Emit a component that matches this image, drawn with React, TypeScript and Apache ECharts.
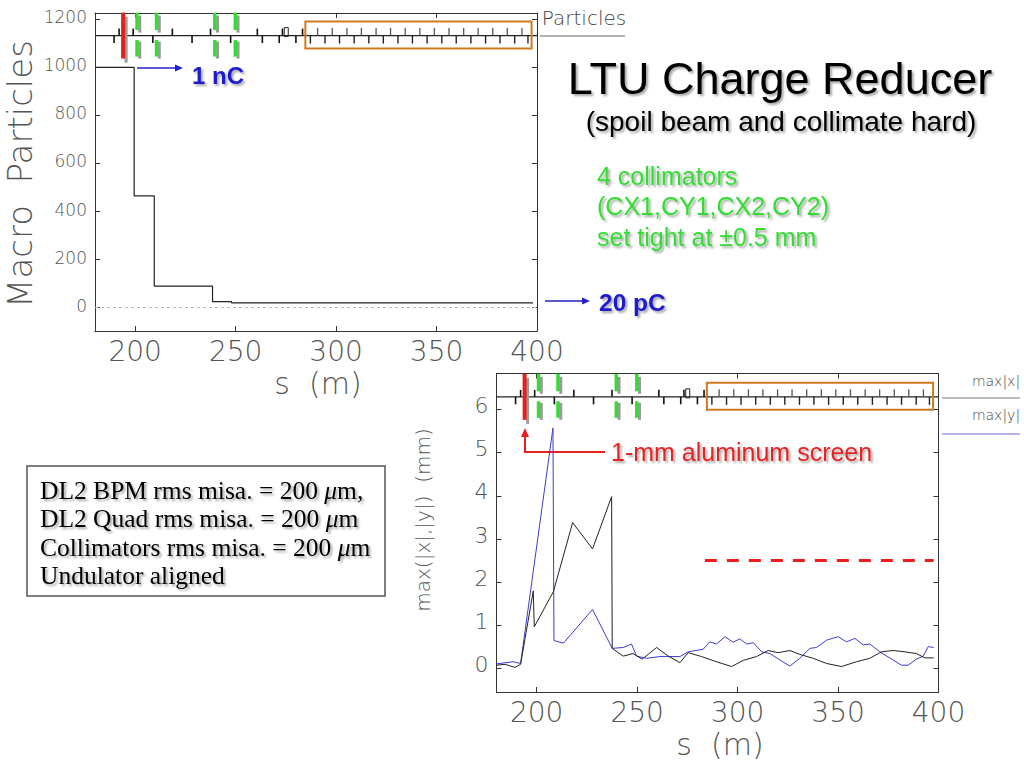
import React, { useEffect, useRef } from "react";
import * as echarts from "echarts";

// ---------- axis ticks ----------
const sTicks = [200, 250, 300, 350, 400];
const particleTicks = [0, 200, 400, 600, 800, 1000, 1200];
const orbitTicks = [0, 1, 2, 3, 4, 5, 6];

// ---------- top chart: macro particles vs s ----------
const particleS = [180, 199.5, 209.5, 238.5, 248, 398];
const particleN = [1000, 465, 90, 25, 20, 20];

// ---------- bottom chart: max|x| and max|y| vs s ----------
const maxXS = [179.8, 184.2, 189.2, 192, 198.3, 198.8, 208.3, 217.9, 227.8, 237.3, 237.6, 243.1, 248, 252.5, 259.7, 265.5, 271.3, 275.4, 282.1, 289.5, 297, 302.8, 309.4, 315.2, 320.2, 326, 331, 337.6, 344.3, 351.7, 359.2, 365.8, 371.6, 377.4, 383.2, 389, 393.2, 397.6];
const maxXV = [0.08, 0.1, 0.03, 0.1, 1.8, 0.97, 1.78, 3.38, 2.77, 3.98, 0.47, 0.29, 0.35, 0.22, 0.49, 0.29, 0.14, 0.37, 0.28, 0.16, 0.05, 0.19, 0.28, 0.42, 0.37, 0.42, 0.33, 0.24, 0.12, 0.05, 0.16, 0.24, 0.39, 0.42, 0.39, 0.35, 0.25, 0.25];
const maxYS = [179.8, 188.4, 192, 208.1, 208.6, 213.3, 227.8, 237.6, 243.1, 247.2, 249.7, 254.7, 261.3, 271.3, 275.4, 282.9, 286.1, 289.5, 293.7, 297.8, 301.1, 304.5, 307.8, 312, 316.1, 321.1, 326, 331, 336, 339.3, 344.3, 350.1, 354.2, 358.4, 362.5, 365.8, 370.8, 377.4, 381.6, 384.9, 389, 392.4, 394.9, 397.6];
const maxYV = [0.11, 0.16, 0.12, 5.57, 0.65, 0.59, 1.37, 0.47, 0.49, 0.57, 0.29, 0.24, 0.28, 0.28, 0.39, 0.45, 0.62, 0.57, 0.74, 0.61, 0.69, 0.57, 0.6, 0.39, 0.35, 0.2, 0.06, 0.24, 0.47, 0.49, 0.66, 0.74, 0.62, 0.7, 0.55, 0.57, 0.39, 0.2, 0.08, 0.08, 0.22, 0.29, 0.51, 0.49];
const limitS = [283.7, 397.6];
const limitV = 2.5;

// ---------- beamline layout (s positions, m) ----------
const bendS = [194];
const collS = [200.8, 210.5, 239.5, 249.7];
const quadUpS = [192, 199, 218.5, 237.5, 260.8, 273.3, 283.3];
const quadDownS = [189.5, 208.8, 228.3, 247.5, 263.3, 271.7, 280];
const smallBoxS = [275.2];
const undUpS = [290.8, 298.1, 305.4, 312.6, 319.9, 327.1, 334.4, 341.7, 348.9, 356.2, 363.5, 370.7, 378.0, 385.2, 392.5];
const undDownS = [287.2, 294.5, 301.7, 309.0, 316.3, 323.5, 330.8, 338.0, 345.3, 352.6, 359.8, 367.1, 374.4, 381.6, 388.9, 395.5];
const undulatorRange = [284.7, 397.3];
const beamlineRange = [180, 400];

const THIN = "'DejaVu Sans', sans-serif";
const ARIAL = "'Liberation Sans', Arial, sans-serif";
const SERIF = "'Liberation Serif', 'Times New Roman', serif";

const K = { axis: 0, bend: 1, coll: 2, qUp: 3, qDown: 4, box: 5, uUp: 6, uDown: 7, uBox: 8 };

function beamlineSeries(axisIdx: number, base: number) {
  const data: number[][] = [];
  data.push([beamlineRange[0], base, K.axis, beamlineRange[1]]);
  data.push([undulatorRange[0], base, K.uBox, undulatorRange[1]]);
  bendS.forEach((s) => data.push([s, base, K.bend, s]));
  collS.forEach((s) => data.push([s, base, K.coll, s]));
  quadUpS.forEach((s) => data.push([s, base, K.qUp, s]));
  quadDownS.forEach((s) => data.push([s, base, K.qDown, s]));
  smallBoxS.forEach((s) => data.push([s, base, K.box, s]));
  undUpS.forEach((s) => data.push([s, base, K.uUp, s]));
  undDownS.forEach((s) => data.push([s, base, K.uDown, s]));
  return {
    type: "custom",
    xAxisIndex: axisIdx,
    yAxisIndex: axisIdx,
    silent: true,
    clip: false,
    z: 5,
    encode: { x: 0, y: 1 },
    data,
    renderItem: (params: any, api: any) => {
      const s = api.value(0);
      const b = api.value(1);
      const k = api.value(2);
      const s2 = api.value(3);
      const p = api.coord([s, b]);
      const x = p[0];
      const y = p[1];
      const line = (x1: number, y1: number, x2: number, y2: number, color: string, w: number) => ({
        type: "line",
        shape: { x1, y1, x2, y2 },
        style: { stroke: color, lineWidth: w },
      });
      const rect = (rx: number, ry: number, rw: number, rh: number, fill: string) => ({
        type: "rect",
        shape: { x: rx, y: ry, width: rw, height: rh },
        style: { fill },
      });
      if (k === K.axis) {
        const p2 = api.coord([s2, b]);
        return line(x, y, p2[0], y, "#222", 1.2);
      }
      if (k === K.uBox) {
        const p2 = api.coord([s2, b]);
        return {
          type: "rect",
          shape: { x, y: y - 14, width: p2[0] - x, height: 27 },
          style: { fill: "none", stroke: "#d07a1e", lineWidth: 2 },
        };
      }
      if (k === K.bend) {
        return {
          type: "group",
          children: [
            rect(x + 1.5, y - 19, 3, 46, "#9a9a9a"),
            rect(x - 2, y - 23, 4, 46, "#e4201c"),
          ],
        };
      }
      if (k === K.coll) {
        return {
          type: "group",
          children: [
            rect(x + 1.5, y - 20, 3, 17, "#9a9a9a"),
            rect(x + 1.5, y + 6, 3, 17, "#9a9a9a"),
            rect(x - 1.5, y - 23, 3.5, 17.5, "#33dd33"),
            rect(x - 1.5, y + 4.5, 3.5, 16.5, "#33dd33"),
          ],
        };
      }
      if (k === K.qUp) return line(x, y - 7, x, y, "#111", 1.6);
      if (k === K.qDown) return line(x, y, x, y + 7.5, "#111", 1.6);
      if (k === K.uUp) return line(x, y - 7.5, x, y, "#555", 1.3);
      if (k === K.uDown) return line(x, y, x, y + 8, "#222", 1.4);
      if (k === K.box) {
        return {
          type: "rect",
          shape: { x: x - 2, y: y - 8, width: 4, height: 9 },
          style: { fill: "none", stroke: "#222", lineWidth: 1 },
        };
      }
      return null;
    },
  };
}

function xAxisPair(gridIndex: number) {
  const common = {
    type: "value",
    gridIndex,
    min: 180,
    max: 400,
    splitLine: { show: false },
    axisLine: { show: true, onZero: false, lineStyle: { color: "#333", width: 1 } },
    axisTick: { show: true, inside: true, length: 5, customValues: sTicks, lineStyle: { color: "#333" } },
  };
  return [
    {
      ...common,
      position: "bottom",
      axisLabel: {
        show: true,
        customValues: sTicks,
        formatter: (v: number) => String(v),
        fontSize: 28,
        color: "#555",
        fontFamily: THIN,
        fontWeight: 200,
        margin: 6,
      },
    },
    { ...common, position: "top", axisLabel: { show: false } },
  ];
}

function yAxisPair(gridIndex: number, min: number, max: number, ticks: number[], fontSize: number, lh: number) {
  const common = {
    type: "value",
    gridIndex,
    min,
    max,
    splitLine: { show: false },
    axisLine: { show: true, onZero: false, lineStyle: { color: "#333", width: 1 } },
    axisTick: { show: true, inside: true, length: 5, customValues: ticks, lineStyle: { color: "#333" } },
  };
  return [
    {
      ...common,
      position: "left",
      axisLabel: {
        show: true,
        customValues: ticks,
        formatter: (v: number) => String(v),
        fontSize,
        color: "#555",
        fontFamily: THIN,
        fontWeight: 200,
        margin: 8,
        verticalAlign: "bottom",
        lineHeight: lh,
      },
    },
    { ...common, position: "right", axisLabel: { show: false } },
  ];
}

const shadow = { textShadowColor: "rgba(0,0,0,0.35)", textShadowOffsetX: 2, textShadowOffsetY: 2, textShadowBlur: 2 };

function arrowHead(x: number, y: number, dir: "right" | "up", color: string) {
  const pts = dir === "right" ? [[x - 8, y - 3.5], [x, y], [x - 8, y + 3.5]] : [[x - 4, y + 9], [x, y], [x + 4, y + 9]];
  return { type: "polygon", shape: { points: pts }, style: { fill: color } };
}

export default function App() {
  const ref = useRef<HTMLDivElement>(null);

  useEffect(() => {
    if (!ref.current) return;
    const chart = echarts.init(ref.current, undefined, { renderer: "svg" });

    const [xb0, xt0] = xAxisPair(0);
    const [xb1, xt1] = xAxisPair(1);
    const [yl0, yr0] = yAxisPair(0, -97, 1226, particleTicks, 17, 4);
    const [yl1, yr1] = yAxisPair(1, -0.54, 6.83, orbitTicks, 22, 8);

    const option: any = {
      animation: false,
      backgroundColor: "#ffffff",
      grid: [
        { left: 95, top: 13, width: 442, height: 318 },
        { left: 496.5, top: 373.5, width: 442, height: 318.5 },
      ],
      xAxis: [xb0, xb1, xt0, xt1],
      yAxis: [yl0, yl1, yr0, yr1],
      series: [
        {
          name: "Particles",
          type: "line",
          xAxisIndex: 0,
          yAxisIndex: 0,
          step: "end",
          symbol: "none",
          data: particleS.map((s, i) => [s, particleN[i]]),
          lineStyle: { color: "#222", width: 1.2 },
          markLine: {
            silent: true,
            symbol: "none",
            label: { show: false },
            lineStyle: { color: "#bbb", type: [3, 3], width: 1 },
            data: [{ yAxis: 0 }],
          },
        },
        beamlineSeries(0, 1132),
        {
          name: "max|x|",
          type: "line",
          xAxisIndex: 1,
          yAxisIndex: 1,
          symbol: "none",
          data: maxXS.map((s, i) => [s, maxXV[i]]),
          lineStyle: { color: "#222", width: 1 },
          z: 3,
        },
        {
          name: "max|y|",
          type: "line",
          xAxisIndex: 1,
          yAxisIndex: 1,
          symbol: "none",
          data: maxYS.map((s, i) => [s, maxYV[i]]),
          lineStyle: { color: "#3b3bd6", width: 1 },
          z: 2,
          markLine: {
            silent: true,
            symbol: "none",
            label: { show: false },
            lineStyle: { color: "#ee1c1c", type: [12, 10], width: 3 },
            data: [[{ coord: [limitS[0], limitV] }, { coord: [limitS[1], limitV] }]],
          },
        },
        beamlineSeries(1, 6.29),
      ],
      graphic: [
        // axis titles
        {
          type: "text",
          x: 20,
          y: 174,
          rotation: Math.PI / 2,
          style: { text: "Macro  Particles", fontSize: 34, fontFamily: THIN, fontWeight: 200, fill: "#555", align: "center", verticalAlign: "middle" },
        },
        {
          type: "text",
          x: 318,
          y: 383,
          style: { text: "s  (m)", fontSize: 30, fontFamily: THIN, fontWeight: 200, fill: "#555", align: "center", verticalAlign: "middle" },
        },
        {
          type: "text",
          x: 423,
          y: 520,
          rotation: Math.PI / 2,
          style: { text: "max(|x|,|y|)  (mm)", fontSize: 20, fontFamily: THIN, fontWeight: 200, fill: "#555", align: "center", verticalAlign: "middle" },
        },
        {
          type: "text",
          x: 720,
          y: 744,
          style: { text: "s  (m)", fontSize: 30, fontFamily: THIN, fontWeight: 200, fill: "#555", align: "center", verticalAlign: "middle" },
        },
        // legends
        {
          type: "text",
          x: 584,
          y: 18,
          style: { text: "Particles", fontSize: 20, fontFamily: THIN, fontWeight: 200, fill: "#444", align: "center", verticalAlign: "middle" },
        },
        { type: "line", shape: { x1: 540, y1: 36, x2: 625, y2: 36 }, style: { stroke: "#666", lineWidth: 1.2 } },
        {
          type: "text",
          x: 996,
          y: 381,
          style: { text: "max|x|", fontSize: 14, fontFamily: THIN, fontWeight: 200, fill: "#444", align: "center", verticalAlign: "middle" },
        },
        { type: "line", shape: { x1: 942, y1: 398, x2: 1020, y2: 398 }, style: { stroke: "#777", lineWidth: 1.2 } },
        {
          type: "text",
          x: 996,
          y: 415,
          style: { text: "max|y|", fontSize: 14, fontFamily: THIN, fontWeight: 200, fill: "#444", align: "center", verticalAlign: "middle" },
        },
        { type: "line", shape: { x1: 942, y1: 434, x2: 1020, y2: 434 }, style: { stroke: "#6a6ad8", lineWidth: 1.2 } },
        // top annotations
        { type: "line", shape: { x1: 137, y1: 68, x2: 176, y2: 68 }, style: { stroke: "#2020cc", lineWidth: 1.5 } },
        arrowHead(183, 68, "right", "#2020cc"),
        {
          type: "text",
          x: 192,
          y: 75,
          style: { text: "1 nC", fontSize: 24, fontWeight: "bold", fontFamily: ARIAL, fill: "#1f1fcc", align: "left", verticalAlign: "middle", ...shadow },
        },
        { type: "line", shape: { x1: 545, y1: 301, x2: 583, y2: 301 }, style: { stroke: "#2020cc", lineWidth: 1.5 } },
        arrowHead(590, 301, "right", "#2020cc"),
        {
          type: "text",
          x: 599,
          y: 302,
          style: { text: "20 pC", fontSize: 24.5, fontWeight: "bold", fontFamily: ARIAL, fill: "#1f1fcc", align: "left", verticalAlign: "middle", ...shadow },
        },
        // title block
        {
          type: "text",
          x: 780,
          y: 78,
          style: { text: "LTU Charge Reducer", fontSize: 45, fontFamily: ARIAL, fill: "#000", align: "center", verticalAlign: "middle", ...shadow },
        },
        {
          type: "text",
          x: 781,
          y: 121,
          style: { text: "(spoil beam and collimate hard)", fontSize: 28, fontFamily: ARIAL, fill: "#000", align: "center", verticalAlign: "middle", ...shadow },
        },
        {
          type: "text",
          x: 597,
          y: 176,
          style: { text: "4 collimators", fontSize: 25, fontFamily: ARIAL, fill: "#33dd33", align: "left", verticalAlign: "middle", ...shadow },
        },
        {
          type: "text",
          x: 597,
          y: 206,
          style: { text: "(CX1,CY1,CX2,CY2)", fontSize: 25, fontFamily: ARIAL, fill: "#33dd33", align: "left", verticalAlign: "middle", ...shadow },
        },
        {
          type: "text",
          x: 597,
          y: 237,
          style: { text: "set tight at \u00b10.5 mm", fontSize: 25, fontFamily: ARIAL, fill: "#33dd33", align: "left", verticalAlign: "middle", ...shadow },
        },
        // bottom annotation
        {
          type: "polyline",
          shape: { points: [[605, 452], [525, 452], [525, 436]] },
          style: { stroke: "#e82020", lineWidth: 2, fill: "none" },
        },
        arrowHead(525, 428, "up", "#e82020"),
        {
          type: "text",
          x: 611,
          y: 452,
          style: { text: "1-mm aluminum screen", fontSize: 25, fontFamily: ARIAL, fill: "#e82020", align: "left", verticalAlign: "middle", ...shadow },
        },
        // text box
        {
          type: "rect",
          shape: { x: 27, y: 466, width: 358, height: 130 },
          style: { fill: "#fff", stroke: "#555", lineWidth: 1.5 },
        },
        ...[
          "DL2 BPM rms misa. = 200 {i|\u03bc}m,",
          "DL2 Quad rms misa. = 200 {i|\u03bc}m",
          "Collimators rms misa. = 200 {i|\u03bc}m",
          "Undulator aligned",
        ].map((t, i) => ({
          type: "text",
          x: 40,
          y: 490 + i * 28.5,
          style: {
            text: t,
            fontSize: 25.5,
            fontFamily: SERIF,
            fill: "#000",
            align: "left",
            verticalAlign: "middle",
            ...shadow,
            rich: { i: { fontSize: 25.5, fontFamily: SERIF, fontStyle: "italic", fill: "#000" } },
          },
        })),
      ],
    };

    chart.setOption(option);
    return () => chart.dispose();
  }, []);

  return (
    <div
      ref={ref}
      style={{ position: "absolute", left: 0, top: 0, width: 1024, height: 768, background: "#fff" }}
    />
  );
}
